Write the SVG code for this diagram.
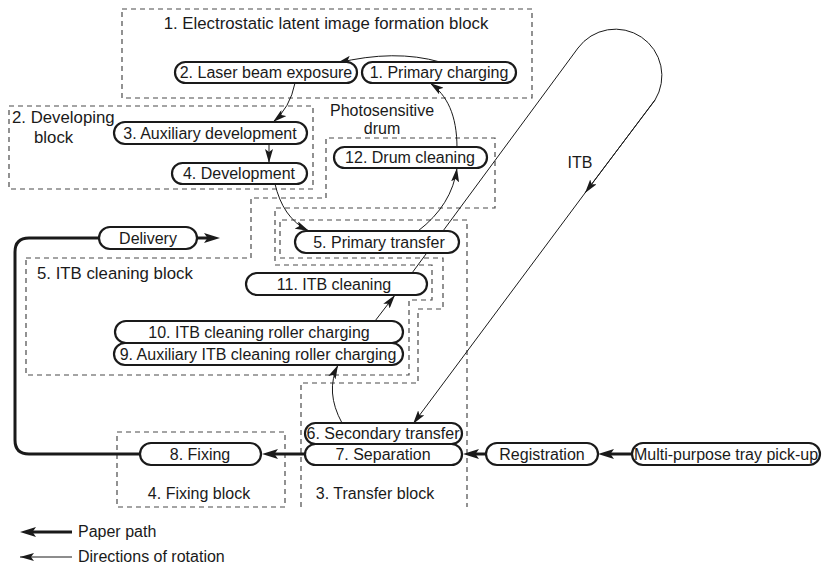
<svg xmlns="http://www.w3.org/2000/svg" width="823" height="566" viewBox="0 0 823 566">
  <defs>
    <style>
      .node rect { fill: #fff; stroke: #1a1a1a; stroke-width: 2.2; }
      .node text, .lbl { font-family: "Liberation Sans", Arial, Helvetica, sans-serif; font-size: 16px; fill: #1a1a1a; }
      .node text { text-anchor: middle; }
      .ttl { font-size: 16.8px; }
      .blk { fill: none; stroke: #4a4a4a; stroke-width: 1.2; stroke-dasharray: 5 4; }
      .rot { fill: none; stroke: #1a1a1a; stroke-width: 1; marker-end: url(#thin); }
      .belt { fill: none; stroke: #1a1a1a; stroke-width: 1; }
      .paper { fill: none; stroke: #1a1a1a; stroke-width: 3; }
      .paperA { fill: none; stroke: #1a1a1a; stroke-width: 3; marker-end: url(#thick); }
    </style>
    <marker id="thin" viewBox="0 0 14 8" refX="14" refY="4" markerWidth="14" markerHeight="8" markerUnits="userSpaceOnUse" orient="auto">
      <path d="M0,0 L14,4 L0,8 L3,4 z" fill="#1a1a1a"/>
    </marker>
    <marker id="thick" viewBox="0 0 16 10" refX="4" refY="5" markerWidth="16" markerHeight="10" markerUnits="userSpaceOnUse" orient="auto">
      <path d="M0,0 L16,5 L0,10 L3.5,5 z" fill="#1a1a1a"/>
    </marker>
  </defs>

  <rect width="823" height="566" fill="#fff"/>

  <!-- dashed block outlines -->
  <g id="blocks">
    <rect class="blk" x="122" y="9" width="410" height="89"/>
    <rect class="blk" x="9" y="106" width="304" height="83"/>
    <path class="blk" d="M26,258 L251,258 L251,198 L326,198 L326,138 L495,138 L495,208 L275,208 L275,265 L432,265 L432,300 L409,300 L409,375 L26,375 Z"/>
    <path class="blk" d="M301,507 L301,383 L418,383 L418,309 L443,309 L443,258 L280,258 L280,220 L467,220 L467,507"/>
    <rect class="blk" x="117" y="432" width="168" height="75"/>
  </g>

  <!-- block captions -->
  <g id="captions">
    <text class="lbl ttl" x="326" y="29" text-anchor="middle">1. Electrostatic latent image formation block</text>
    <text class="lbl ttl" x="12" y="123">2. Developing</text>
    <text class="lbl ttl" x="34" y="143">block</text>
    <text class="lbl" x="382" y="116" text-anchor="middle">Photosensitive</text>
    <text class="lbl" x="382" y="134" text-anchor="middle">drum</text>
    <text class="lbl ttl" x="37" y="279">5. ITB cleaning block</text>
    <text class="lbl" x="580" y="168" text-anchor="middle">ITB</text>
    <text class="lbl" x="375" y="499" text-anchor="middle">3. Transfer block</text>
    <text class="lbl" x="199" y="499" text-anchor="middle">4. Fixing block</text>
  </g>

  <!-- connectors: rotation directions, belt and paper path -->
  <g id="connectors">
    <path class="rot" d="M440,62 Q395,49 337,63"/>
    <path class="rot" d="M295,83 Q290,108 273,122"/>
    <path class="rot" d="M269,145 L269,163"/>
    <path class="rot" d="M275,184 C280,205 290,222 309,231"/>
    <path class="rot" d="M418,231 Q452,205 457,168"/>
    <path class="rot" d="M457,148 C457,115 447,95 430,83"/>
    <path class="rot" d="M342,423 Q325,392 338,365"/>
    <path class="rot" d="M375,321 L395,295"/>
    <path class="belt" d="M412,273 L578,48 A46.5,46.5 0 0 1 655,100 L585,193"/>
    <path class="rot" d="M655,100 L585,193"/>
    <path class="rot" d="M585,193 L413,424"/>
    <path class="paperA" d="M631,454 L610,454"/>
    <path class="paperA" d="M485,454 L475,454"/>
    <path class="paperA" d="M305,454 L274,454"/>
    <path class="paperA" d="M197,238 L208,238"/>
    <path class="paper" d="M99,238 L29,238 Q15,238 15,252 L15,440 Q15,454 29,454 L140,454"/>
  </g>

  <!-- process steps -->
  <g id="n-laser" class="node"><rect x="175" y="62" width="182" height="21" rx="10.5"/><text x="266" y="78">2. Laser beam exposure</text></g>
  <g id="n-charging" class="node"><rect x="362" y="62" width="154" height="21" rx="10.5"/><text x="439" y="78">1. Primary charging</text></g>
  <g id="n-auxdev" class="node"><rect x="114" y="122" width="193" height="22" rx="11"/><text x="210" y="139">3. Auxiliary development</text></g>
  <g id="n-dev" class="node"><rect x="172" y="163" width="135" height="21" rx="10.5"/><text x="239" y="179">4. Development</text></g>
  <g id="n-drumclean" class="node"><rect x="334" y="147" width="153" height="21" rx="10.5"/><text x="410" y="163">12. Drum cleaning</text></g>
  <g id="n-delivery" class="node"><rect x="99" y="227" width="98" height="22" rx="11"/><text x="148" y="244">Delivery</text></g>
  <g id="n-primtrans" class="node"><rect x="295" y="231" width="164" height="22" rx="11"/><text x="379" y="248">5. Primary transfer</text></g>
  <g id="n-itbclean" class="node"><rect x="246" y="273" width="181" height="22" rx="11"/><text x="334" y="290">11. ITB cleaning</text></g>
  <g id="n-rollchg" class="node"><rect x="115" y="321" width="288" height="22" rx="11"/><text x="259" y="338">10. ITB cleaning roller charging</text></g>
  <g id="n-auxroll" class="node"><rect x="114" y="343" width="289" height="22" rx="11"/><text x="258" y="360">9. Auxiliary ITB cleaning roller charging</text></g>
  <g id="n-sectrans" class="node"><rect x="305" y="423" width="157" height="21" rx="10.5"/><text x="383" y="439">6. Secondary transfer</text></g>
  <g id="n-separation" class="node"><rect x="305" y="444" width="157" height="21" rx="10.5"/><text x="383" y="460">7. Separation</text></g>
  <g id="n-registration" class="node"><rect x="486" y="443" width="112" height="22" rx="11"/><text x="542" y="460">Registration</text></g>
  <g id="n-pickup" class="node"><rect x="632" y="443" width="188" height="22" rx="11"/><text x="726" y="460">Multi-purpose tray pick-up</text></g>
  <g id="n-fixing" class="node"><rect x="140" y="443" width="121" height="22" rx="11"/><text x="200" y="460">8. Fixing</text></g>

  <!-- legend -->
  <g id="legend">
    <path class="paperA" d="M72,532 L32,532"/>
    <text class="lbl" x="78" y="537" font-size="15.5">Paper path</text>
    <path class="rot" d="M72,557 L20,557"/>
    <text class="lbl" x="78" y="562" font-size="15.5">Directions of rotation</text>
  </g>
</svg>
